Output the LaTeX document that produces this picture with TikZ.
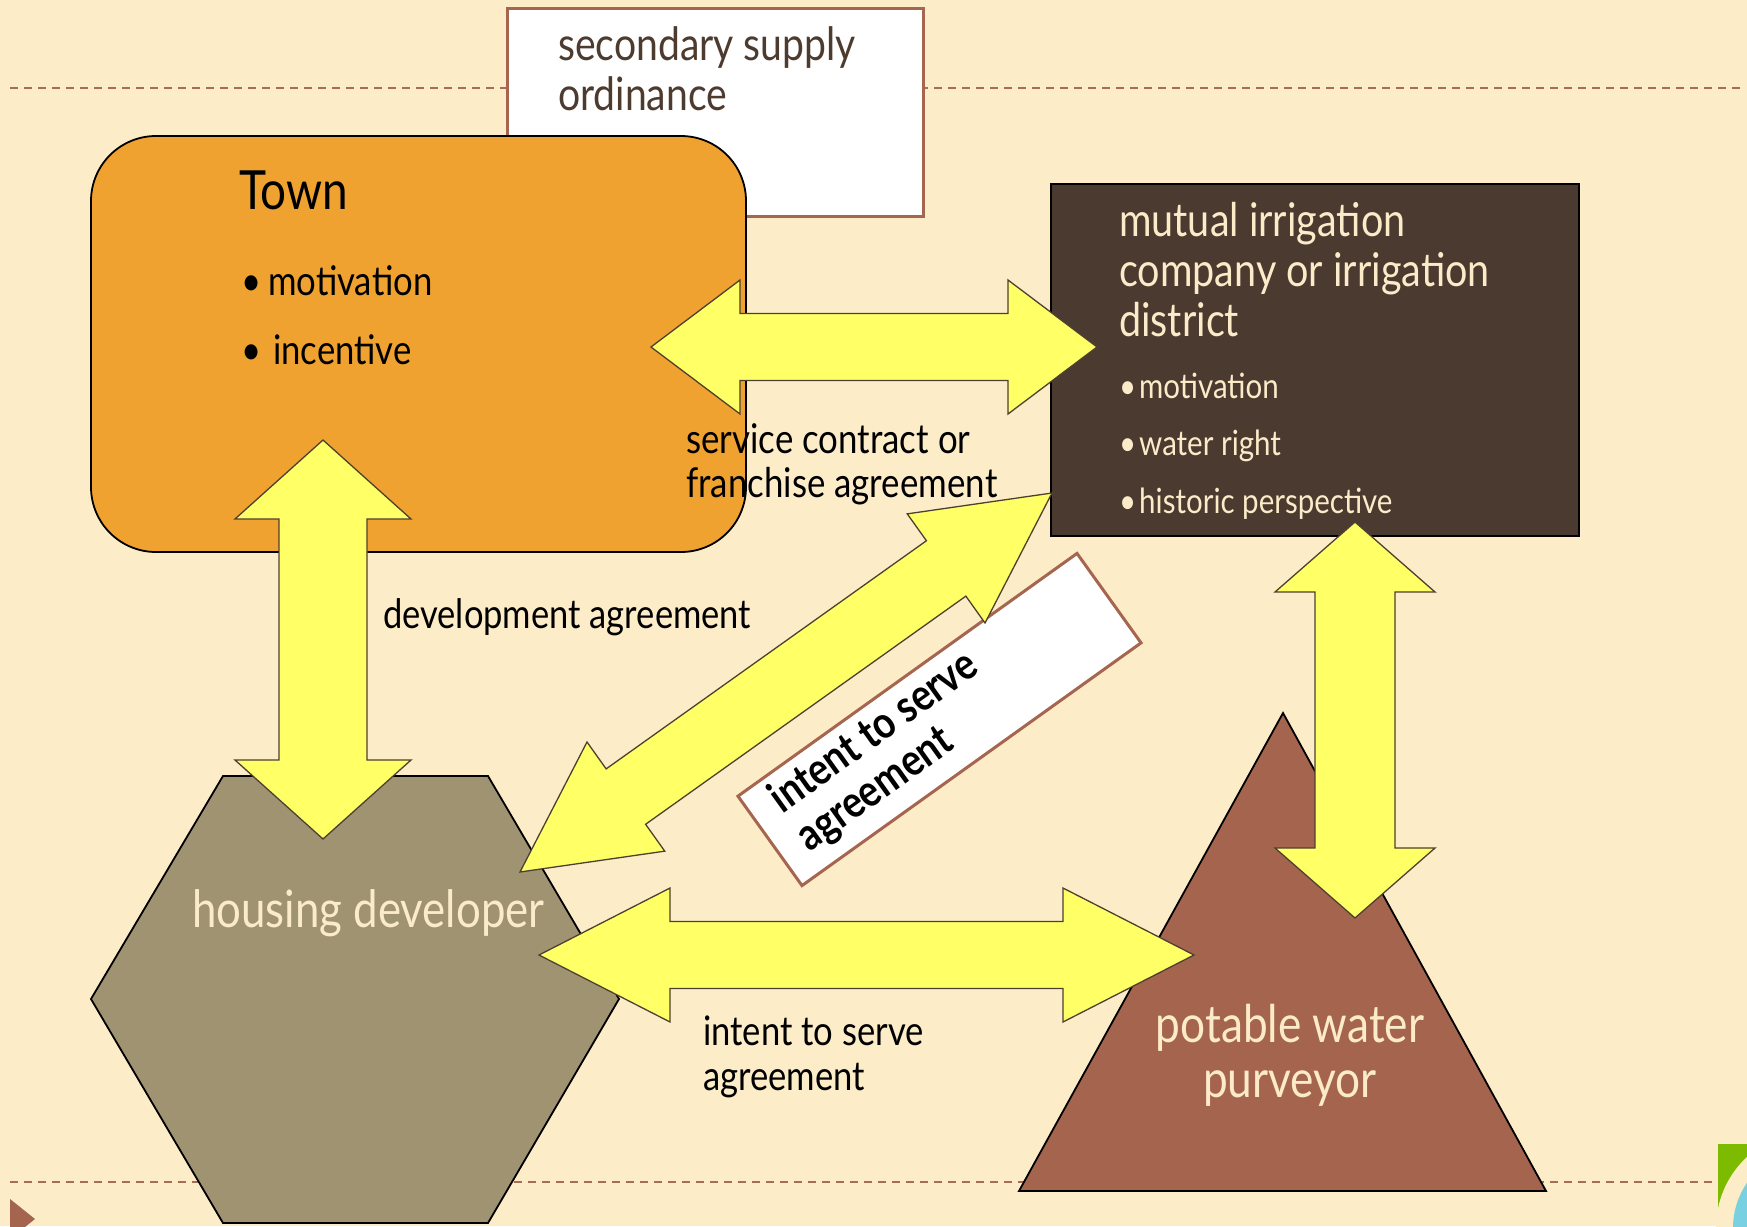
\documentclass[tikz,border=0pt]{standalone}
\usepackage{fontspec}
\setmainfont{Lato}[FakeStretch=0.85]
\usetikzlibrary{calc}
\definecolor{bg}{HTML}{FCECC8}
\definecolor{dashc}{HTML}{A86B55}
\definecolor{orangef}{HTML}{EFA22F}
\definecolor{darkbrown}{HTML}{4B3A2F}
\definecolor{hexf}{HTML}{A09372}
\definecolor{trif}{HTML}{A5644E}
\definecolor{yel}{HTML}{FFFF66}
\definecolor{arrline}{HTML}{4E4030}
\definecolor{creamtxt}{HTML}{FBEBC8}
\definecolor{sectxt}{HTML}{4E3B30}
\definecolor{boxline}{HTML}{A5654F}
\definecolor{greenc}{HTML}{7DBB00}
\definecolor{bluec}{HTML}{79D0E0}
\tikzset{
  yarrow/.style={fill=yel, draw=arrline, line width=1.3pt, line join=miter},
  shapeline/.style={draw=black, line width=1.8pt},
  txt/.style={inner sep=0pt, anchor=base west, align=left},
  dashln/.style={draw=dashc, line width=2pt, dash pattern=on 8pt off 6pt},
}
% #1 start tip, #2 end tip, #3 head length, #4 head half width, #5 shaft half width
\newcommand{\dblarrow}[5]{%
  \path (#1) coordinate (da) (#2) coordinate (db);
  \path ($(da)!#3!(db)$) coordinate (ha) ($(db)!#3!(da)$) coordinate (hb);
  \filldraw[yarrow] (da) -- ($(ha)!#4!90:(db)$) -- ($(ha)!#5!90:(db)$)
    -- ($(hb)!#5!-90:(da)$) -- ($(hb)!#4!-90:(da)$) -- (db)
    -- ($(hb)!#4!90:(da)$) -- ($(hb)!#5!90:(da)$)
    -- ($(ha)!#5!-90:(db)$) -- ($(ha)!#4!-90:(db)$) -- cycle;}
\begin{document}
\begin{tikzpicture}[x=1pt,y=-1pt]
\useasboundingbox (0,0) rectangle (1747,1226);
\fill[bg] (0,0) rectangle (1747,1226);
% decoration
\begin{scope}
\clip (0,0) rectangle (1747,1226);
\fill[greenc] (1718,1144) rectangle (1750,1230);
\fill[bg] (1813,1228) circle (97);
\fill[bluec] (1813,1228) circle (80);
\fill[trif] (10,1199) -- (35,1219) -- (10,1239) -- cycle;
\end{scope}
% dashed rules
\draw[dashln] (10,88) -- (1740,88);
\draw[dashln] (10,1182) -- (1712,1182);
% secondary supply ordinance
\node[draw=boxline, line width=3pt, fill=white, minimum width=416pt, minimum height=208pt, inner sep=0pt] (sec) at (715.5,112) {};
\node[txt, text=sectxt, font=\fontsize{46}{50}\selectfont] (sectext) at (558,110) {secondary supply\\ordinance};
% Town
\node[shapeline, fill=orangef, rounded corners=65pt, minimum width=655pt, minimum height=416pt, inner sep=0pt] (town) at (418.5,344) {};
\node[txt, font=\fontsize{54}{50}\selectfont] (towntitle) at (239,209) {Town};
\node[txt, font=\fontsize{40.8}{44}\selectfont] (townb1) at (241,295) {\makebox[27pt][l]{•}motivation};
\node[txt, font=\fontsize{40.8}{44}\selectfont] (townb2) at (241,364) {\makebox[32pt][l]{•}incentive};
% irrigation
\node[shapeline, fill=darkbrown, minimum width=528pt, minimum height=352pt, inner sep=0pt] (irrig) at (1315,360) {};
\node[txt, text=creamtxt, font=\fontsize{46.5}{50}\selectfont] (irrigtitle) at (1119,336) {mutual irrigation\\company or irrigation\\district};
\node[txt, text=creamtxt, font=\fontsize{34.7}{57.5}\selectfont] (irrigb) at (1119,513) {\makebox[20pt][l]{•}motivation\\\makebox[20pt][l]{•}water right\\\makebox[20pt][l]{•}historic perspective};
% housing developer
\draw[shapeline, fill=hexf] (223,776) -- (488,776) -- (619,999) -- (488,1223) -- (223,1223) -- (91,999) -- cycle;
\coordinate (hex) at (355,999);
\node[txt, text=creamtxt, font=\fontsize{51.5}{50}\selectfont] (hextext) at (192,927) {housing developer};
% potable water purveyor
\draw[shapeline, fill=trif] (1283,713) -- (1546,1191) -- (1019,1191) -- cycle;
\coordinate (tri) at (1283,1000);
\node[inner sep=0pt, anchor=base, align=center, text=creamtxt, font=\fontsize{52}{55}\selectfont] (tritext) at (1290,1097) {potable water\\purveyor};
% rotated intent box
\node[draw=boxline, line width=3pt, fill=white, rotate=35.6, minimum width=417pt, minimum height=110pt, inner sep=0pt] (isabox) at (939.5,719.5) {};
\node[txt, rotate=35.6, font=\fontsize{44.5}{47}\selectfont\bfseries] (isatext) at (809.5,852.6) {intent to serve\\agreement};
% arrows
\coordinate (a1s) at (651,347); \coordinate (a1e) at (1097,347);
\coordinate (a2s) at (323,440); \coordinate (a2e) at (323,839);
\coordinate (a3s) at (1355,522); \coordinate (a3e) at (1355,918);
\coordinate (a4s) at (539,955); \coordinate (a4e) at (1194,955);
\coordinate (a5s) at (1052,493); \coordinate (a5e) at (520,872);
\dblarrow{a1s}{a1e}{89pt}{67pt}{33.5pt}
\dblarrow{a2s}{a2e}{79pt}{88pt}{44pt}
\dblarrow{a3s}{a3e}{70pt}{80pt}{40pt}
\dblarrow{a4s}{a4e}{131pt}{67pt}{33.5pt}
\dblarrow{a5s}{a5e}{130pt}{67pt}{34pt}
% labels
\node[txt, font=\fontsize{41}{44}\selectfont] (lab1) at (686,497) {service contract or\\franchise agreement};
\node[txt, font=\fontsize{40.6}{44}\selectfont] (lab2) at (383,628) {development agreement};
\node[txt, font=\fontsize{40.7}{45}\selectfont] (lab3) at (703,1090) {intent to serve\\agreement};
\end{tikzpicture}
\end{document}
